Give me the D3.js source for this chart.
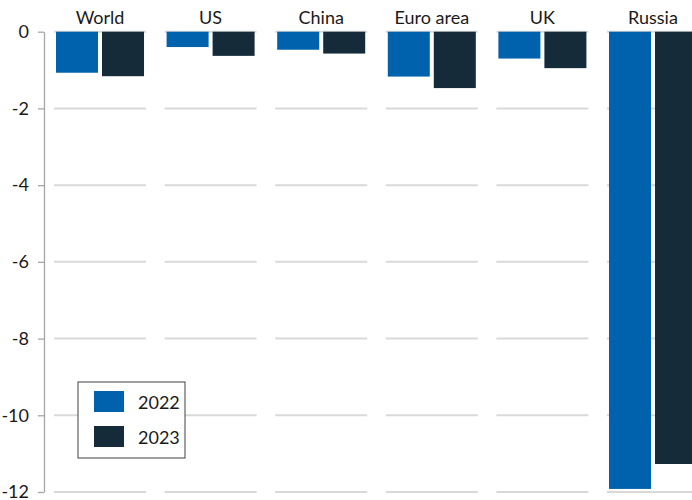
<!DOCTYPE html>
<html>
<head>
<meta charset="utf-8">
<script src="https://cdn.jsdelivr.net/npm/d3@7"></script>
<style>
  html, body { margin: 0; padding: 0; background: #fff; }
  svg { display: block; font-family: Lato, "Open Sans", sans-serif; }
</style>
</head>
<body>
<svg id="chart" width="692" height="500"></svg>
<script>
// data
const categories = ['World', 'US', 'China', 'Euro area', 'UK', 'Russia'];
const years = ['2022', '2023'];
const values2022 = [-1.07, -0.40, -0.47, -1.17, -0.70, -11.92];
const values2023 = [-1.16, -0.63, -0.57, -1.47, -0.95, -11.27];
const yTicks = [0, -2, -4, -6, -8, -10, -12];

const colors = { '2022': '#0062ad', '2023': '#152b3a' };
const seriesValues = { '2022': values2022, '2023': values2023 };

const svg = d3.select('#chart');

const y = d3.scaleLinear()
    .domain([-12, 0])
    .range([492, 31.7]);

const x = d3.scaleBand()
    .domain(categories)
    .range([54, 699])
    .paddingInner(0.168)
    .paddingOuter(0);

const xInner = d3.scaleBand()
    .domain(years)
    .range([0, x.bandwidth()])
    .paddingInner(0.087)
    .paddingOuter(0.0435);

// one panel per category
const panels = svg.append('g')
    .selectAll('g')
    .data(categories)
    .join('g')
    .attr('transform', d => `translate(${x(d)},0)`);

// gridlines, broken per panel
panels.selectAll('line.grid')
    .data(yTicks)
    .join('line')
    .attr('class', 'grid')
    .attr('x1', 0)
    .attr('x2', x.bandwidth())
    .attr('y1', d => y(d))
    .attr('y2', d => y(d))
    .attr('stroke', '#d9d9d9')
    .attr('stroke-width', 2);

// bars
panels.selectAll('rect')
    .data((c, i) => years.map(yr => ({ year: yr, value: seriesValues[yr][i] })))
    .join('rect')
    .attr('x', d => xInner(d.year))
    .attr('width', xInner.bandwidth())
    .attr('y', y(0))
    .attr('height', d => y(d.value) - y(0))
    .attr('fill', d => colors[d.year]);

// category labels
panels.append('text')
    .attr('x', x.bandwidth() / 2)
    .attr('y', 24)
    .attr('text-anchor', 'middle')
    .attr('font-size', 18)
    .attr('fill', '#1a1a1a')
    .text(d => d);

// y axis
const yAxis = svg.append('g')
    .attr('transform', 'translate(44,0)')
    .call(d3.axisLeft(y)
        .tickValues(yTicks)
        .tickFormat(d => String(d))
        .tickSize(6)
        .tickSizeOuter(0)
        .tickPadding(9));

yAxis.select('.domain')
    .attr('stroke', '#a6a6a6')
    .attr('stroke-width', 1.3);
yAxis.selectAll('.tick line')
    .attr('stroke', '#a6a6a6')
    .attr('stroke-width', 1.3);
yAxis.selectAll('.tick text')
    .attr('font-size', 18)
    .attr('font-family', 'Lato, "Open Sans", sans-serif')
    .attr('fill', '#1a1a1a');

// legend
const legend = svg.append('g')
    .attr('transform', 'translate(78,382)');

legend.append('rect')
    .attr('width', 107)
    .attr('height', 76)
    .attr('fill', '#fff')
    .attr('stroke', '#404040')
    .attr('stroke-width', 1);

const items = legend.selectAll('g.item')
    .data(years)
    .join('g')
    .attr('class', 'item')
    .attr('transform', (d, i) => `translate(16,${9 + i * 35})`);

items.append('rect')
    .attr('width', 30)
    .attr('height', 21)
    .attr('fill', d => colors[d]);

items.append('text')
    .attr('x', 44)
    .attr('y', 18)
    .attr('font-size', 18)
    .attr('fill', '#1a1a1a')
    .text(d => d);
</script>
</body>
</html>
